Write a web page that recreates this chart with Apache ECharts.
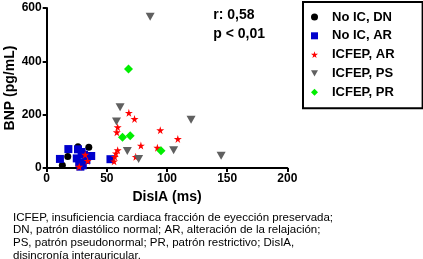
<!DOCTYPE html>
<html><head><meta charset="utf-8">
<script src="https://cdn.jsdelivr.net/npm/echarts@6/dist/echarts.min.js"></script>
<style>html,body{margin:0;padding:0;background:#fff}#c{width:423px;height:259px}</style>
</head><body><div id="c"></div>
<script>
const seriesNames = ['No IC, DN','No IC, AR','ICFEP, AR','ICFEP, PS','ICFEP, PR'];
const noIcDn = [[13,10],[17.5,43],[26,80],[35,78]];
const noIcAr = [[11,34],[18,71],[26,70],[29,60],[25,36],[27,20],[28,5],[31,50],[33,30],[37,45],[30,10],[53,33]];
const icfepAr = [[27,5],[32,50],[34,27],[56,25],[56.6,42],[57.5,55],[59,67],[58.3,134],[59,153],[68.3,207],[73,184],[78.3,84],[74,42],[92,76],[94.4,142],[109,109]];
const icfepPs = [[58,174],[61,228],[67,64],[76.4,34],[86,567],[105.5,67],[120,181],[145,46]];
const icfepPr = [[63,115],[69.4,121],[68,371],[95,65]];
const xTicks = [0,50,100,150,200];
const yTicks = [0,200,400,600];
const captionLines = [
 'ICFEP, insuficiencia cardiaca fracción de eyección preservada;',
 'DN, patrón diastólico normal; AR, alteración de la relajación;',
 'PS, patrón pseudonormal; PR, patrón restrictivo; DisIA,',
 'disincronía interauricular.'
];
const statsLines = ['r: 0,58','p < 0,01'];

const star = 'path://M50,0 L61,35 L98,35 L68,57 L79,91 L50,70 L21,91 L32,57 L2,35 L39,35 Z';
const triDown = 'path://M0,0 L10,0 L5,9 Z';
const FONT = 'Liberation Sans, Arial, sans-serif';
const chart = echarts.init(document.getElementById('c'));
const styles = [
 {symbol:'circle', size:7, color:'#000000'},
 {symbol:'rect', size:8, color:'#0000cc'},
 {symbol:star, size:8, color:'#ff0000'},
 {symbol:triDown, size:[9,8], color:'#606060'},
 {symbol:'diamond', size:9, color:'#00ee00'}
];
const datas = [noIcDn,noIcAr,icfepAr,icfepPs,icfepPr];
chart.setOption({
 animation:false,
 backgroundColor:'#fff',
 grid:{left:46.7,top:8,width:240.6,height:160,containLabel:false,outerBoundsMode:'none'},
 xAxis:{type:'value',min:0,max:200,interval:50,
  name:'DisIA (ms)',nameLocation:'middle',nameGap:22,nameMoveOverlap:false,
  nameTextStyle:{fontFamily:FONT,fontWeight:'bold',fontSize:14,color:'#000'},
  axisLine:{show:true,lineStyle:{color:'#000',width:2}},
  axisTick:{show:true,length:4,lineStyle:{color:'#000',width:2}},
  axisLabel:{fontFamily:FONT,fontWeight:'bold',fontSize:12,color:'#000',margin:5},
  splitLine:{show:false}},
 yAxis:{type:'value',min:0,max:600,interval:200,
  name:'BNP (pg/mL)',nameLocation:'middle',nameGap:30,nameMoveOverlap:false,
  nameTextStyle:{fontFamily:FONT,fontWeight:'bold',fontSize:14,color:'#000'},
  axisLine:{show:true,lineStyle:{color:'#000',width:2}},
  axisTick:{show:true,length:4,lineStyle:{color:'#000',width:2}},
  axisLabel:{fontFamily:FONT,fontWeight:'bold',fontSize:12,color:'#000',margin:5},
  splitLine:{show:false}},
 legend:{orient:'vertical',left:303,top:2,
  padding:[8.5,28,9.5,8],itemGap:5.8,itemWidth:7,itemHeight:7,
  borderColor:'#000',borderWidth:2,
  textStyle:{fontFamily:FONT,fontWeight:'bold',fontSize:13,color:'#000',padding:[0,0,0,9]},
  data:seriesNames.map((n,i)=>({name:n,icon:styles[i].symbol,itemStyle:{color:styles[i].color}}))},
 series:datas.map((d,i)=>({
  type:'scatter',name:seriesNames[i],data:d,symbol:styles[i].symbol,symbolSize:styles[i].size,
  itemStyle:{color:styles[i].color,opacity:1}
 })),
 graphic:[
  {type:'text',right:158,top:6,style:{text:statsLines.join('\n'),font:'bold 14px '+FONT,fill:'#000',lineHeight:19,align:'left'}},
  {type:'text',left:13,top:211,style:{text:captionLines.join('\n'),font:'11.5px '+FONT,fill:'#000',lineHeight:12.8}}
 ]
});
</script></body></html>
